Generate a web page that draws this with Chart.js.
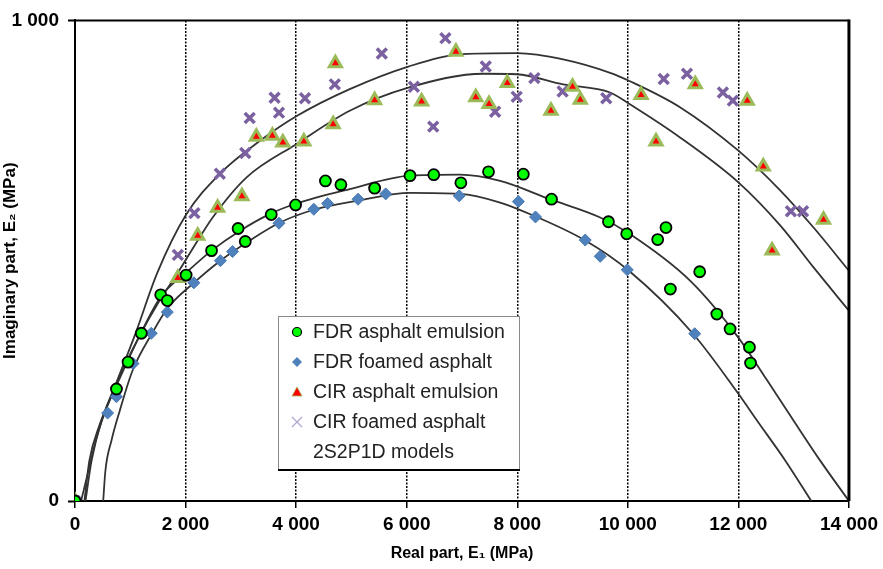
<!DOCTYPE html>
<html>
<head>
<meta charset="utf-8">
<script src="https://cdn.jsdelivr.net/npm/chart.js"></script>
<style>
  body { margin: 0; background: #fff; }
  #wrap { width: 883px; height: 569px; position: relative; }
</style>
</head>
<body>
<div id="wrap"><canvas id="chart"></canvas></div>
<script>
// measured points, E1 = real part, E2 = imaginary part (MPa)
const fdrEmulsionE1 = [0, 750, 960, 1200, 1550, 1670, 2010, 2470, 2950, 3080, 3550, 3990, 4530, 4810, 5420, 6060, 6490, 6980, 7480, 8110, 8620, 9650, 9980, 10540, 10690, 11300, 10770, 11610, 11850, 12200, 12220];
const fdrEmulsionE2 = [0, 233, 289, 349, 429, 417, 470, 521, 567, 540, 596, 616, 666, 658, 651, 677, 679, 662, 685, 680, 628, 581, 556, 544, 569, 477, 441, 389, 358, 320, 287];

const fdrFoamedE1 = [0, 590, 750, 1050, 1380, 1670, 2150, 2630, 2850, 3690, 4320, 4570, 5120, 5620, 6950, 8020, 8330, 9230, 9500, 9990, 11210];
const fdrFoamedE2 = [0, 183, 217, 286, 349, 393, 454, 500, 519, 578, 607, 619, 628, 639, 635, 623, 591, 543, 509, 481, 348];

const cirEmulsionE1 = [0, 1860, 2220, 2580, 3020, 3280, 3570, 3760, 4140, 4670, 4710, 5420, 6270, 6890, 7250, 7490, 7820, 8610, 9000, 9140, 10240, 10510, 11220, 12160, 12450, 13540, 12610];
const cirEmulsionE2 = [0, 464, 552, 610, 634, 758, 760, 746, 748, 784, 911, 834, 831, 935, 840, 826, 870, 812, 862, 835, 845, 748, 867, 833, 696, 585, 521];

const cirFoamedE1 = [0, 1860, 2160, 2620, 3080, 3160, 3610, 3690, 4160, 4700, 5550, 6130, 6480, 6700, 7430, 7600, 7990, 8310, 8820, 9610, 10650, 11070, 11720, 11900, 12950, 13170];
const cirFoamedE2 = [0, 512, 599, 681, 724, 797, 839, 808, 838, 867, 931, 862, 779, 963, 904, 810, 841, 880, 852, 838, 878, 889, 850, 833, 603, 603];

// 2S2P1D model curves
const modelCir1E1 = [110, 230, 410, 715, 1080, 1490, 2000, 2620, 3340, 4010, 4970, 6030, 7020, 8000, 8830, 9680, 10030, 10950, 12000, 12760, 13360, 14000];
const modelCir1E2 = [0, 57, 140, 236, 344, 475, 594, 681, 749, 801, 857, 904, 930, 932, 919, 891, 874, 819, 729, 646, 569, 479];

const modelCir2E1 = [190, 300, 480, 770, 1170, 1530, 1860, 2220, 2490, 3100, 4010, 4970, 6030, 7390, 7990, 8830, 9680, 10030, 10950, 12000, 12760, 13360, 14000];
const modelCir2E2 = [0, 84, 167, 250, 344, 417, 475, 542, 590, 673, 743, 812, 860, 889, 888, 867, 850, 826, 756, 663, 573, 486, 396];

const modelFdrEmE1 = [170, 260, 440, 750, 1170, 1550, 2010, 2470, 2980, 3520, 3980, 4970, 6060, 6960, 7690, 8590, 9500, 10030, 11130, 12000, 12520, 13000, 13480, 14000];
const modelFdrEmE2 = [0, 84, 157, 240, 344, 425, 475, 521, 562, 597, 618, 649, 677, 679, 666, 628, 590, 556, 458, 340, 251, 167, 84, 0];

const modelFdrFoE1 = [510, 550, 660, 810, 1040, 1390, 1680, 2150, 2630, 3160, 3700, 4320, 5120, 6060, 6960, 7690, 8290, 9230, 10020, 11180, 12000, 12340, 12850, 13320];
const modelFdrFoE2 = [0, 63, 126, 188, 271, 348, 402, 454, 500, 542, 579, 606, 625, 641, 639, 621, 594, 542, 479, 348, 223, 167, 84, 0];

const seriesLabels = ['FDR asphalt emulsion', 'FDR foamed asphalt', 'CIR asphalt emulsion', 'CIR foamed asphalt', '2S2P1D models'];
const xTickValues = [0, 2000, 4000, 6000, 8000, 10000, 12000, 14000];
const yTickValues = [0, 1000];

function pts(xs, ys) {
    return xs.map((x, i) => ({ x: x, y: ys[i] }));
}

function fmt(n) {
    return String(n).replace(/\B(?=(\d{3})+(?!\d))/g, ' ');
}

function modelLine(xs, ys) {
    return {
        label: seriesLabels[4],
        data: pts(xs, ys),
        showLine: true,
        pointRadius: 0,
        borderColor: '#333333',
        borderWidth: 1.8,
        cubicInterpolationMode: 'monotone',
        fill: false
    };
}

// small marker painter for the legend
function drawMarker(ctx, kind, x, y) {
    ctx.save();
    if (kind === 0) {
        ctx.beginPath();
        ctx.arc(x, y, 4.5, 0, Math.PI * 2);
        ctx.fillStyle = '#00ff00';
        ctx.fill();
        ctx.lineWidth = 1.2;
        ctx.strokeStyle = '#000';
        ctx.stroke();
    } else if (kind === 1) {
        ctx.beginPath();
        ctx.moveTo(x, y - 5); ctx.lineTo(x + 5, y); ctx.lineTo(x, y + 5); ctx.lineTo(x - 5, y);
        ctx.closePath();
        ctx.fillStyle = '#4f81bd';
        ctx.fill();
    } else if (kind === 2) {
        ctx.beginPath();
        ctx.moveTo(x, y - 5); ctx.lineTo(x + 5, y + 4); ctx.lineTo(x - 5, y + 4);
        ctx.closePath();
        ctx.fillStyle = '#ff0000';
        ctx.fill();
        ctx.lineWidth = 0.8;
        ctx.strokeStyle = '#9bbb59';
        ctx.stroke();
    } else if (kind === 3) {
        ctx.beginPath();
        ctx.moveTo(x - 5, y - 5); ctx.lineTo(x + 5, y + 5);
        ctx.moveTo(x + 5, y - 5); ctx.lineTo(x - 5, y + 5);
        ctx.lineWidth = 1.3;
        ctx.strokeStyle = '#b3a6d3';
        ctx.stroke();
    }
    ctx.restore();
}

const whiteBg = {
    id: 'whiteBg',
    beforeDraw(chart) {
        const ctx = chart.ctx;
        ctx.save();
        ctx.fillStyle = '#fff';
        ctx.fillRect(0, 0, chart.width, chart.height);
        ctx.restore();
    }
};

const frameAndLegend = {
    id: 'frameAndLegend',
    afterDraw(chart) {
        const ctx = chart.ctx;
        const a = chart.chartArea;
        ctx.save();
        // top and right frame
        ctx.strokeStyle = '#000';
        ctx.lineWidth = 2;
        ctx.beginPath();
        ctx.moveTo(a.left, a.top);
        ctx.lineTo(a.right, a.top);
        ctx.stroke();
        ctx.lineWidth = 3;
        ctx.beginPath();
        ctx.moveTo(a.right, a.top - 1);
        ctx.lineTo(a.right, a.bottom);
        ctx.stroke();

        // legend box
        const bx = 278, by = 316, bw = 241, bh = 154;
        ctx.fillStyle = '#fff';
        ctx.fillRect(bx, by, bw, bh);
        ctx.lineWidth = 1;
        ctx.strokeStyle = '#8a8a8a';
        ctx.strokeRect(bx + 0.5, by + 0.5, bw, bh);
        ctx.lineWidth = 2;
        ctx.strokeStyle = '#000';
        ctx.beginPath();
        ctx.moveTo(bx, by + bh);
        ctx.lineTo(bx + bw + 1, by + bh);
        ctx.stroke();

        ctx.font = '19.5px "Liberation Sans", Arial, sans-serif';
        ctx.fillStyle = '#222';
        ctx.textBaseline = 'middle';
        for (let i = 0; i < seriesLabels.length; i++) {
            const y = 332 + i * 30;
            drawMarker(ctx, i, 297, y);
            ctx.fillText(seriesLabels[i], 313, y + 1);
        }
        ctx.restore();
    }
};

new Chart(document.getElementById('chart'), {
    type: 'scatter',
    data: {
        datasets: [
            {
                label: seriesLabels[0],
                data: pts(fdrEmulsionE1, fdrEmulsionE2),
                pointStyle: 'circle',
                pointRadius: 5.5,
                backgroundColor: '#00ff00',
                borderColor: '#000',
                borderWidth: 1.8
            },
            {
                label: seriesLabels[1],
                data: pts(fdrFoamedE1, fdrFoamedE2),
                pointStyle: 'rectRot',
                pointRadius: 6,
                backgroundColor: '#4f81bd',
                borderColor: '#4a7ab4',
                borderWidth: 1
            },
            {
                label: seriesLabels[2],
                data: pts(cirEmulsionE1, cirEmulsionE2),
                pointStyle: 'triangle',
                pointRadius: 7,
                backgroundColor: '#ff0000',
                borderColor: '#9bbb59',
                borderWidth: 3
            },
            {
                label: seriesLabels[3],
                data: pts(cirFoamedE1, cirFoamedE2),
                pointStyle: 'crossRot',
                pointRadius: 7,
                backgroundColor: '#7b61a0',
                borderColor: '#7b61a0',
                borderWidth: 3.5
            },
            modelLine(modelCir1E1, modelCir1E2),
            modelLine(modelCir2E1, modelCir2E2),
            modelLine(modelFdrEmE1, modelFdrEmE2),
            modelLine(modelFdrFoE1, modelFdrFoE2)
        ]
    },
    options: {
        responsive: true,
        maintainAspectRatio: false,
        animation: false,
        layout: { padding: { top: 19, right: 34, left: 0, bottom: 0 } },
        plugins: {
            legend: { display: false },
            tooltip: { enabled: false }
        },
        scales: {
            x: {
                type: 'linear',
                min: 0,
                max: 14000,
                afterFit(scale) { scale.height = 68; },
                afterBuildTicks(scale) { scale.ticks = xTickValues.map(v => ({ value: v })); },
                ticks: {
                    callback: v => fmt(v),
                    font: { size: 19, weight: 'bold' },
                    color: '#000',
                    padding: 5,
                    maxRotation: 0
                },
                grid: {
                    color: c => (c.tick && (c.tick.value === 0 || c.tick.value === 14000)) ? 'rgba(0,0,0,0)' : '#000',
                    lineWidth: 1.5,
                    tickColor: '#000',
                    tickLength: 7,
                    tickWidth: 1.5
                },
                border: { color: '#000', width: 2, dash: [2, 1.5] },
                title: {
                    display: true,
                    text: 'Real part, E\u2081 (MPa)',
                    font: { size: 16, weight: 'bold' },
                    color: '#000',
                    padding: { top: 0, bottom: 6 }
                }
            },
            y: {
                type: 'linear',
                min: 0,
                max: 1000,
                afterFit(scale) { scale.width = 75; },
                afterBuildTicks(scale) { scale.ticks = yTickValues.map(v => ({ value: v })); },
                ticks: {
                    callback: v => fmt(v),
                    font: { size: 19, weight: 'bold' },
                    color: '#000',
                    padding: 9
                },
                grid: {
                    drawOnChartArea: false,
                    tickColor: '#000',
                    tickLength: 7,
                    tickWidth: 2
                },
                border: { color: '#000', width: 2 },
                title: {
                    display: true,
                    text: 'Imaginary part, E\u2082 (MPa)',
                    font: { size: 17, weight: 'bold' },
                    color: '#000',
                    padding: { top: 0, bottom: 8 }
                }
            }
        }
    },
    plugins: [whiteBg, frameAndLegend]
});
</script>
</body>
</html>
